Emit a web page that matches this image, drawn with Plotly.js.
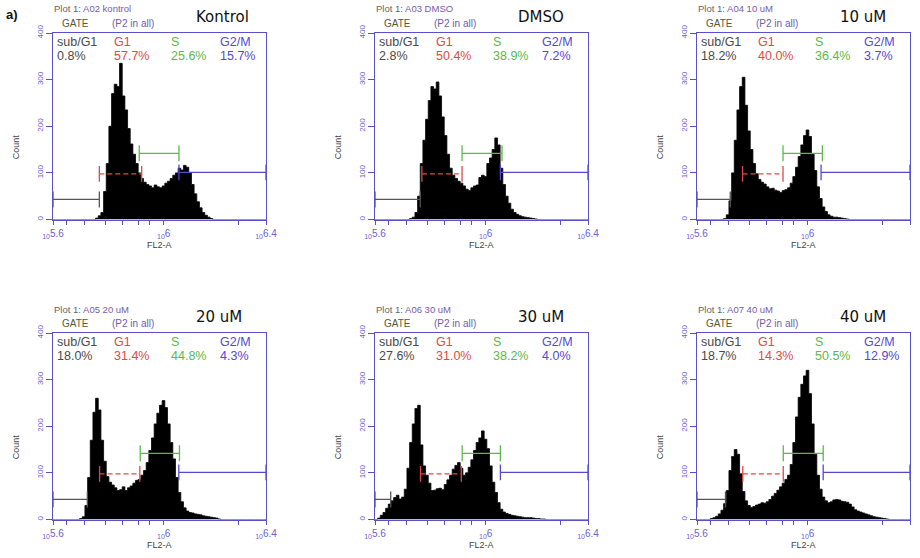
<!DOCTYPE html>
<html><head><meta charset="utf-8">
<script src="https://cdn.plot.ly/plotly-3.0.1.min.js"></script>
<style>html,body{margin:0;padding:0;background:#fff}#chart{width:920px;height:558px}</style>
</head><body><div id="chart"></div>
<script>
// ---------- data ----------
const panelLabels = ['Kontrol', 'DMSO', '10 uM', '20 uM', '30 uM', '40 uM'];
const sampleIds = ['A02 kontrol', 'A03 DMSO', 'A04 10 uM', 'A05 20 uM', 'A06 30 uM', 'A07 40 uM'];
const phaseNames = ['sub/G1', 'G1', 'S', 'G2/M'];
const subG1Pct = ['0.8%', '2.8%', '18.2%', '18.0%', '27.6%', '18.7%'];
const g1Pct = ['57.7%', '50.4%', '40.0%', '31.4%', '31.0%', '14.3%'];
const sPct = ['25.6%', '38.9%', '36.4%', '44.8%', '38.2%', '50.5%'];
const g2mPct = ['15.7%', '7.2%', '3.7%', '4.3%', '4.0%', '12.9%'];

// histogram bins: log10(FL2-A) from 5.6, width 0.01 (80 bins)
const binStart = 5.6, binWidth = 0.01;
const countsKontrol = [
  0,0,0,0,0,0,0,0,0,0,
  0,0,0,0,0,0,3,8,15,60,
  120,200,270,290,285,335,265,235,195,162,
  140,120,100,88,80,75,72,68,74,70,
  68,72,78,82,88,95,100,110,106,116,
  112,100,75,55,38,25,15,9,5,2,
  0,0,0,0,0,0,0,0,0,0,
  0,0,0,0,0,0,0,0,0,0];
const countsDMSO = [
  0,0,0,0,0,0,0,0,0,0,
  0,0,0,2,5,15,50,120,170,215,
  255,285,280,295,265,220,180,140,110,95,
  88,82,78,72,65,62,68,72,74,90,
  95,92,120,132,150,175,160,110,75,50,
  35,22,15,11,8,6,5,4,3,2,
  1,0,0,0,0,0,0,0,0,0,
  0,0,0,0,0,0,0,0,0,0];
const counts10uM = [
  0,0,0,0,0,0,0,0,0,0,
  2,10,40,100,170,235,285,305,245,190,
  150,120,98,86,80,76,70,66,67,63,
  61,58,62,64,68,78,92,112,135,160,
  180,192,178,140,105,70,45,27,17,10,
  7,5,5,4,3,2,1,0,0,0,
  0,0,0,0,0,0,0,0,0,0,
  0,0,0,0,0,0,0,0,0,0];
const counts20uM = [
  0,0,0,0,0,0,0,0,0,0,
  2,6,30,90,170,230,260,235,170,125,
  92,80,74,68,62,64,70,62,68,72,
  78,84,86,95,105,122,148,175,205,228,
  245,255,240,205,165,130,90,58,38,25,
  18,15,14,12,11,10,8,7,6,5,
  4,3,1,0,0,0,0,0,0,0,
  0,0,0,0,0,0,0,0,0,0];
const counts30uM = [
  0,3,9,15,24,33,40,47,52,44,
  48,65,110,165,205,238,245,160,115,95,
  78,62,63,66,67,64,75,85,95,108,
  116,122,110,95,100,112,128,148,165,175,
  190,172,152,115,80,58,36,22,16,13,
  11,9,8,7,6,5,4,4,4,3,
  2,2,1,1,0,0,0,0,0,0,
  0,0,0,0,0,0,0,0,0,0];
const counts40uM = [
  0,0,0,0,0,2,4,7,12,20,
  34,62,105,135,150,140,98,60,40,30,
  26,28,31,33,36,35,38,43,50,56,
  63,70,78,86,95,118,165,220,262,290,
  308,320,270,205,140,95,65,48,40,36,
  38,42,43,42,39,38,37,33,27,21,
  18,16,14,12,10,8,6,5,4,3,
  2,1,0,0,0,0,0,0,0,0];
const allCounts = [countsKontrol, countsDMSO, counts10uM, counts20uM, counts30uM, counts40uM];

// gate markers (log10 FL2-A) per panel
const subG1End = [5.774, 5.770, 5.725, 5.729, 5.659, 5.707];
const g1Start  = [5.774, 5.776, 5.771, 5.775, 5.771, 5.772];
const g1End    = [5.933, 5.927, 5.923, 5.926, 5.924, 5.924];
const sStart   = [5.924, 5.927, 5.923, 5.9275, 5.9275, 5.924];
const sEnd     = [6.073, 6.077, 6.071, 6.075, 6.071, 6.074];
const g2mStart = [6.073, 6.071, 6.066, 6.0725, 6.071, 6.074];
const gateLevels = {sub: 43, g1: 98, s: 142, g2m: 101};

const xTickVals = [5.6, 5.65, 5.718, 5.796, 5.862, 5.922, 5.964, 6.016, 6.297, 6.4];
const xTickText = ['<sub>10</sub>5.6', '', '', '', '', '', '', '<sub>10</sub>6', '', '<sub>10</sub>6.4'];
const yTickVals = [0, 100, 200, 300, 400];

// ---------- layout ----------
const W = 920, H = 558, PW = 213, PH = 186.5;
const colLeft = [53, 375, 697], rowTop = [33, 333];
const BLUE = '#5a50c8', TICKBLUE = '#6b62d2';
const C_SUB = '#4a4a4a', C_G1 = '#e04848', C_S = '#5cb84a', C_G2 = '#5548d0';
const FONT = 'Liberation Sans, Arial, sans-serif';

const traces = [], annotations = [];
const layout = {
  width: W, height: H, margin: {l: 0, r: 0, t: 0, b: 0},
  paper_bgcolor: '#ffffff', plot_bgcolor: '#ffffff', showlegend: false,
  font: {family: FONT}, annotations: annotations
};
function ann(text, px, py, o) {
  annotations.push(Object.assign({
    text: text, xref: 'paper', yref: 'paper', x: px / W, y: 1 - py / H,
    xanchor: 'left', yanchor: 'middle', showarrow: false,
    font: {family: FONT, size: 9, color: '#333'}
  }, o || {}));
}
function gate(xa, ya, x1, x2, h, color, dash) {
  const t = 17;
  traces.push({type: 'scatter', mode: 'lines', xaxis: xa, yaxis: ya, hoverinfo: 'skip',
    x: [x1, x2], y: [h, h], line: {color: color, width: 1.3, dash: dash || 'solid'}});
  traces.push({type: 'scatter', mode: 'lines', xaxis: xa, yaxis: ya, hoverinfo: 'skip',
    x: [x1, x1, null, x2, x2], y: [h - t, h + t, null, h - t, h + t], line: {color: color, width: 1.3}});
}

ann('<b>a)</b>', 4, 14, {font: {family: FONT, size: 13, color: '#111'}});

for (let k = 0; k < 6; k++) {
  const c = k % 3, r = Math.floor(k / 3);
  const L = colLeft[c], T = rowTop[r];
  const sfx = k === 0 ? '' : String(k + 1);
  const xa = 'x' + sfx, ya = 'y' + sfx;
  layout['xaxis' + sfx] = {
    domain: [L / W, (L + PW) / W], anchor: ya, range: [5.6, 6.4],
    showline: true, mirror: true, linecolor: BLUE, linewidth: 1.3,
    ticks: 'outside', ticklen: 4, tickcolor: BLUE, tickwidth: 1,
    tickmode: 'array', tickvals: xTickVals, ticktext: xTickText,
    tickfont: {family: FONT, size: 10, color: TICKBLUE},
    showgrid: false, zeroline: false, fixedrange: true
  };
  layout['yaxis' + sfx] = {
    domain: [1 - (T + PH) / H, 1 - T / H], anchor: xa, range: [0, 400],
    showline: true, mirror: true, linecolor: BLUE, linewidth: 1.3,
    ticks: 'outside', ticklen: 6, tickcolor: BLUE, tickwidth: 1,
    tickmode: 'array', tickvals: yTickVals, tickangle: -90,
    tickfont: {family: FONT, size: 8, color: TICKBLUE},
    showgrid: false, zeroline: false, fixedrange: true
  };

  // histogram
  const counts = allCounts[k];
  const hx = counts.map((v, i) => binStart + i * binWidth);
  hx.push(binStart + counts.length * binWidth);
  const hy = counts.slice(); hy.push(0);
  traces.push({type: 'scatter', mode: 'lines', x: hx, y: hy, xaxis: xa, yaxis: ya,
    line: {shape: 'hv', color: '#000', width: 0.8}, fill: 'tozeroy', fillcolor: '#000', hoverinfo: 'skip'});

  // gates
  gate(xa, ya, 5.6, subG1End[k], gateLevels.sub, '#555555');
  gate(xa, ya, g1Start[k], g1End[k], gateLevels.g1, C_G1, '5px,3px');
  gate(xa, ya, sStart[k], sEnd[k], gateLevels.s, C_S);
  gate(xa, ya, g2mStart[k], 6.4, gateLevels.g2m, C_G2);

  // header texts
  ann('<span style="color:#666">Plot 1: </span><span style="color:#7a5aa8">' + sampleIds[k] + '</span>', L - 1, T - 24, {font: {family: FONT, size: 9.5, color: '#666'}});
  ann('GATE', L + 7, T - 10, {font: {family: FONT, size: 10, color: '#5a5a30'}});
  ann('(P2 in all)', L + 57, T - 10, {font: {family: FONT, size: 10, color: '#6e5cb0'}});
  ann(panelLabels[k], L + 141, T - 16, {font: {family: 'DejaVu Sans, sans-serif', size: 15, color: '#111'}});

  // phase percentages
  const cols = [L + 2, L + 59, L + 116, L + 165];
  const colors = [C_SUB, C_G1, C_S, C_G2];
  const vals = [subG1Pct[k], g1Pct[k], sPct[k], g2mPct[k]];
  for (let j = 0; j < 4; j++) {
    ann(phaseNames[j], cols[j], T + 8.5, {font: {family: FONT, size: 12.5, color: colors[j]}});
    ann(vals[j], cols[j], T + 22.5, {font: {family: FONT, size: 12.5, color: colors[j]}});
  }

  // axis titles
  ann('FL2-A', L + PW / 2, T + PH + 25, {xanchor: 'center', font: {family: FONT, size: 9, color: '#444'}});
  ann('Count', L - 37, T + PH / 2 + 21, {xanchor: 'center', textangle: -90, font: {family: FONT, size: 9, color: '#444'}});
}

Plotly.newPlot('chart', traces, layout, {displayModeBar: false, staticPlot: true});
</script></body></html>
